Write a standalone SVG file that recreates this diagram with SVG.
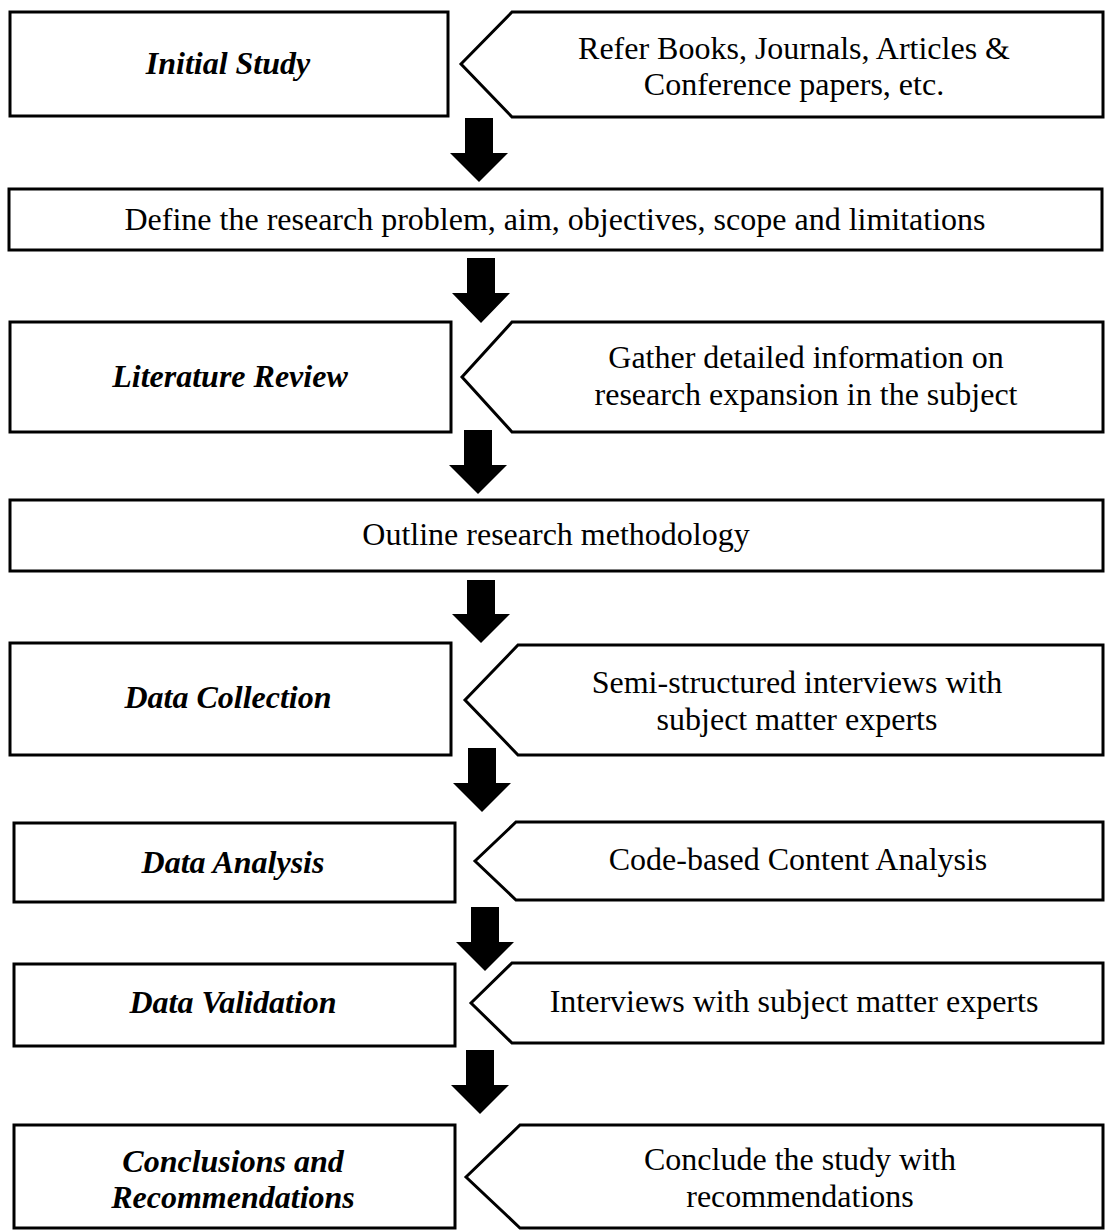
<svg xmlns="http://www.w3.org/2000/svg" width="1106" height="1230" viewBox="0 0 1106 1230">
  <style>
    .box { fill: #fff; stroke: #000; stroke-width: 3; stroke-linejoin: miter; }
    .note { fill: #fff; stroke: #000; stroke-width: 3; stroke-linejoin: miter; }
    .arrow { fill: #000; stroke: none; }
    text { font-family: "Liberation Serif", "Times New Roman", serif; font-size: 32px; fill: #000; text-anchor: middle; }
    .stage { font-weight: bold; font-style: italic; }
  </style>
  <rect width="1106" height="1230" fill="#fff"/>

  <!-- Stage 1 -->
  <g id="initial-study">
    <rect class="box" x="10" y="12" width="438" height="104"/>
    <text class="stage" x="228" y="74">Initial Study</text>
  </g>
  <g id="initial-study-note">
    <polygon class="note" points="461,64 512,12 1103,12 1103,117 512,117"/>
    <text x="794" y="59">Refer Books, Journals, Articles &amp;</text>
    <text x="794" y="95">Conference papers, etc.</text>
  </g>

  <!-- Stage 2 -->
  <g id="define-problem">
    <rect class="box" x="9" y="189" width="1093" height="61"/>
    <text x="555" y="230">Define the research problem, aim, objectives, scope and limitations</text>
  </g>

  <!-- Stage 3 -->
  <g id="literature-review">
    <rect class="box" x="10" y="322" width="441" height="110"/>
    <text class="stage" x="230" y="387">Literature Review</text>
  </g>
  <g id="literature-review-note">
    <polygon class="note" points="462,377 512,322 1103,322 1103,432 512,432"/>
    <text x="806" y="368">Gather detailed information on</text>
    <text x="806" y="405">research expansion in the subject</text>
  </g>

  <!-- Stage 4 -->
  <g id="methodology">
    <rect class="box" x="10" y="500" width="1093" height="71"/>
    <text x="556" y="545">Outline research methodology</text>
  </g>

  <!-- Stage 5 -->
  <g id="data-collection">
    <rect class="box" x="10" y="643" width="441" height="112"/>
    <text class="stage" x="228" y="708">Data Collection</text>
  </g>
  <g id="data-collection-note">
    <polygon class="note" points="465,700 518,645 1103,645 1103,755 518,755"/>
    <text x="797" y="693">Semi-structured interviews with</text>
    <text x="797" y="730">subject matter experts</text>
  </g>

  <!-- Stage 6 -->
  <g id="data-analysis">
    <rect class="box" x="14" y="823" width="441" height="79"/>
    <text class="stage" x="233" y="873">Data Analysis</text>
  </g>
  <g id="data-analysis-note">
    <polygon class="note" points="475,861 516,822 1103,822 1103,900 516,900"/>
    <text x="798" y="870">Code-based Content Analysis</text>
  </g>

  <!-- Stage 7 -->
  <g id="data-validation">
    <rect class="box" x="14" y="964" width="441" height="82"/>
    <text class="stage" x="233" y="1013">Data Validation</text>
  </g>
  <g id="data-validation-note">
    <polygon class="note" points="471,1003 512,963 1103,963 1103,1043 512,1043"/>
    <text x="794" y="1012">Interviews with subject matter experts</text>
  </g>

  <!-- Stage 8 -->
  <g id="conclusions">
    <rect class="box" x="14" y="1125" width="441" height="103"/>
    <text class="stage" x="233" y="1172">Conclusions and</text>
    <text class="stage" x="233" y="1208">Recommendations</text>
  </g>
  <g id="conclusions-note">
    <polygon class="note" points="466,1177 520,1125 1103,1125 1103,1228 520,1228"/>
    <text x="800" y="1170">Conclude the study with</text>
    <text x="800" y="1207">recommendations</text>
  </g>

  <!-- Block arrows between stages -->
  <g id="connectors">
    <polygon class="arrow" points="465,118 493,118 493,153 508,153 479,182 450,153 465,153"/>
    <polygon class="arrow" points="467,258 495,258 495,293 510,293 481,323 452,293 467,293"/>
    <polygon class="arrow" points="464,430 492,430 492,465 507,465 478,494 449,465 464,465"/>
    <polygon class="arrow" points="467,580 495,580 495,614 510,614 481,643 452,614 467,614"/>
    <polygon class="arrow" points="468,748 496,748 496,783 511,783 482,812 453,783 468,783"/>
    <polygon class="arrow" points="471,907 499,907 499,942 514,942 485,971 456,942 471,942"/>
    <polygon class="arrow" points="466,1050 494,1050 494,1085 509,1085 480,1114 451,1085 466,1085"/>
  </g>
</svg>
